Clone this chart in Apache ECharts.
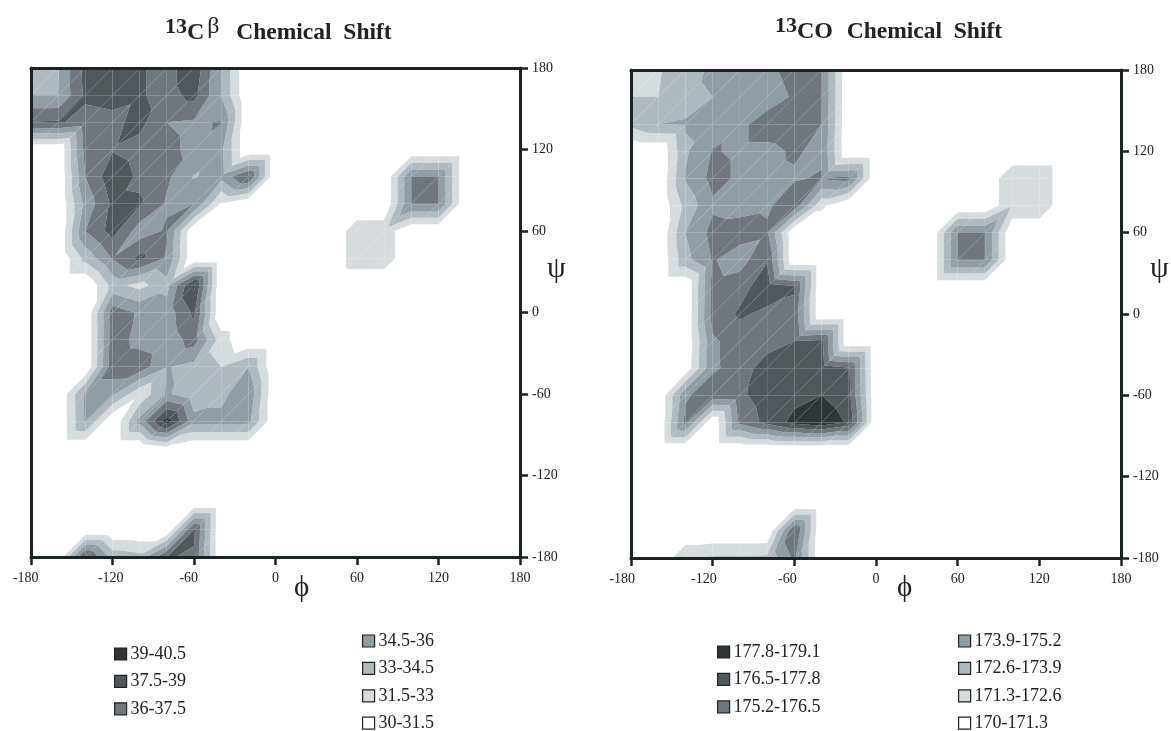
<!DOCTYPE html>
<html><head><meta charset="utf-8">
<style>html,body{margin:0;padding:0;background:#fff}#c{width:1171px;height:731px}</style>
<script src="https://cdn.jsdelivr.net/npm/echarts@6/dist/echarts.min.js"></script>
</head><body><div id="c"></div>
<script>
var phiValues=[-180,-160,-140,-120,-100,-80,-60,-40,-20,0,20,40,60,80,100,120,140,160,180];
var psiValues=[180,160,140,120,100,80,60,40,20,0,-20,-40,-60,-80,-100,-120,-140,-160,-180];
var bandColors=['#ffffff','#d6dbde','#aebabf','#8f9ea5','#6f777d','#50585c','#303638'];
var cbLevels=[30,31.5,33,34.5,36,37.5,39,40.5];
var coLevels=[170,171.3,172.6,173.9,175.2,176.5,177.8,179.1];
var cbNames=['30-31.5','31.5-33','33-34.5','34.5-36','36-37.5','37.5-39','39-40.5'];
var coNames=['170-171.3','171.3-172.6','172.6-173.9','173.9-175.2','175.2-176.5','176.5-177.8','177.8-179.1'];
var cbGrid=[
[34,34.4,38,38.3,37.7,36.9,38.6,34.5,30,30,30,30,30,30,30,30,30,30,30],
[34.5,34.5,37.8,38,37.7,36.9,38,34.5,30,30,30,30,30,30,30,30,30,30,30],
[37.6,37.7,36.9,37.1,38,36,35.8,36.1,30,30,30,30,30,30,30,30,30,30,30],
[30,30,36.5,37.4,36.8,36.2,35.8,34.9,30,30,30,30,30,30,30,30,30,30,30],
[30,30,36,38.5,37.2,36.3,34.4,35,37.7,30,30,30,30,30,36.1,36.1,30,30,30],
[30,30,35,37.8,37.7,35.8,36,31.3,30,30,30,30,30,30,36.1,36.1,30,30,30],
[30,30,36,38.1,35.2,36.2,30,30,30,30,30,30,32.5,32.5,30,30,30,30,30],
[30,30,33.5,36.1,37.9,35.8,30,30,30,30,30,30,32.5,32.5,30,30,30,30,30],
[30,30,30,33.5,32.5,34,39.3,30,30,30,30,30,30,30,30,30,30,30,30],
[30,30,30,36.8,35.8,35.2,37.8,30,30,30,30,30,30,30,30,30,30,30,30],
[30,30,30,36.8,35.5,35,36.7,32.2,30,30,30,30,30,30,30,30,30,30,30],
[30,30,30,37,36.9,34.6,34,33,34.5,30,30,30,30,30,30,30,30,30,30],
[30,30,34.8,34.8,31.8,34.7,33.5,34,35.8,30,30,30,30,30,30,30,30,30,30],
[30,30,34.7,30,35,39.8,35,35,35,30,30,30,30,30,30,30,30,30,30],
[30,30,30,30,30,31,30,30,30,30,30,30,30,30,30,30,30,30,30],
[30,30,30,30,30,30,30,30,30,30,30,30,30,30,30,30,30,30,30],
[30,30,30,30,30,30,30,30,30,30,30,30,30,30,30,30,30,30,30],
[30,30,30,30,30,30,37.8,30,30,30,30,30,30,30,30,30,30,30,30],
[30,30,38,34,33.5,37.6,37.3,30,30,30,30,30,30,30,30,30,30,30,30]];
var coGrid=[
[172.2,172.5,173.2,174.2,174.7,175,175.5,175.3,170,170,170,170,170,170,170,170,170,170,170],
[172.6,172.6,173.5,173.9,174.5,174.8,175.3,175.3,170,170,170,170,170,170,170,170,170,170,170],
[173,173.9,174,174.3,175,175.6,175.7,175.2,170,170,170,170,170,170,170,170,170,170,170],
[170,170,173.7,175.3,175,175,175.3,175,170,170,170,170,170,170,170,170,170,170,170],
[170,170,174,175.6,175,175,175.1,175.3,175.6,170,170,170,170,170,172.5,172.5,170,170,170],
[170,170,173,175,174.8,175,176,171.6,170,170,170,170,170,170,172.5,172.5,170,170,170],
[170,170,173.9,175.6,175.7,175.4,170,170,170,170,170,170,175.3,175.3,170,170,170,170,170],
[170,170,173.5,175.3,174.6,176.4,170,170,170,170,170,170,175.3,175.3,170,170,170,170,170],
[170,170,170,175.6,176,177.3,176.7,170,170,170,170,170,170,170,170,170,170,170,170],
[170,170,170,175.7,176.7,176.2,176,170,170,170,170,170,170,170,170,170,170,170,170],
[170,170,170,175,175.8,175.8,176.5,176.8,170,170,170,170,170,170,170,170,170,170,170],
[170,170,170.3,175,175.7,177.3,177.2,177.2,176.7,170,170,170,170,170,170,170,170,170,170],
[170,170,175,176,176.2,177.2,177.4,177.8,176.9,170,170,170,170,170,170,170,170,170,170],
[170,170,175.6,170,175.5,176.9,178.2,178.8,177.6,170,170,170,170,170,170,170,170,170,170],
[170,170,170,170,170,170,170,170,170,170,170,170,170,170,170,170,170,170,170],
[170,170,170,170,170,170,170,170,170,170,170,170,170,170,170,170,170,170,170],
[170,170,170,170,170,170,170,170,170,170,170,170,170,170,170,170,170,170,170],
[170,170,170,170,170,170,176.6,170,170,170,170,170,170,170,170,170,170,170,170],
[170,170,172.5,172.8,172.8,172.9,175.5,170,170,170,170,170,170,170,170,170,170,170,170]];

var SERIF='"Liberation Serif","Times New Roman",serif', INK='#1a2222';

function triangles(grid){
  var out=[];
  for(var r=0;r<psiValues.length-1;r++)for(var c=0;c<phiValues.length-1;c++){
    var a=[phiValues[c],psiValues[r+1],grid[r+1][c]],
        b=[phiValues[c+1],psiValues[r+1],grid[r+1][c+1]],
        d=[phiValues[c+1],psiValues[r],grid[r][c+1]],
        e=[phiValues[c],psiValues[r],grid[r][c]];
    out.push(a.concat(b,d));
    out.push(a.concat(d,e));
  }
  return out;
}
function clipPoly(poly,level,keepAbove){
  var res=[];
  for(var i=0;i<poly.length;i++){
    var p=poly[i],q=poly[(i+1)%poly.length];
    var pi=keepAbove?p[2]>=level:p[2]<=level, qi=keepAbove?q[2]>=level:q[2]<=level;
    if(pi)res.push(p);
    if(pi!==qi){
      var t=(level-p[2])/(q[2]-p[2]);
      res.push([p[0]+t*(q[0]-p[0]),p[1]+t*(q[1]-p[1]),level]);
    }
  }
  return res;
}
function bandPoly(v,lo,hi){
  var poly=[[v[0],v[1],v[2]],[v[3],v[4],v[5]],[v[6],v[7],v[8]]];
  return clipPoly(clipPoly(poly,lo,true),hi,false);
}
function bandSeries(grid,levels,names,axisIdx){
  var tris=triangles(grid);
  return names.map(function(name,k){
    var lo=levels[k],hi=levels[k+1];
    var data=tris.filter(function(v){return k>0 && bandPoly(v,lo,hi).length>2;});
    return {
      type:'custom',name:name,xAxisIndex:axisIdx,yAxisIndex:axisIdx,
      coordinateSystem:'cartesian2d',silent:true,animation:false,
      itemStyle:{color:bandColors[k]},
      encode:{x:[0,3,6],y:[1,4,7]},
      data:data,
      renderItem:function(params,api){
        var v=[];for(var i=0;i<9;i++)v.push(api.value(i));
        var poly=bandPoly(v,lo,hi);
        if(poly.length<3)return null;
        return {type:'polygon',shape:{points:poly.map(function(p){return api.coord([p[0],p[1]]);})},
                style:{fill:bandColors[k]}};
      }
    };
  });
}
function xLabel(shift){
  return function(v){
    var n=shift[v]||0,s=String(v);
    while(n-->0)s+=' ';
    return s;
  };
}
function xAxes(gi,shift){
  return [
   {gridIndex:gi,type:'value',min:-180,max:180,interval:60,position:'bottom',z:5,splitLine:{show:false},
    axisLine:{onZero:false,lineStyle:{color:INK,width:3}},axisTick:{length:8,lineStyle:{color:INK,width:2.5}},
    axisLabel:{fontFamily:SERIF,fontSize:14,color:'#222',margin:14,showMinLabel:true,showMaxLabel:true,formatter:xLabel(shift)}},
   {gridIndex:gi,type:'value',min:-180,max:180,position:'top',z:5,splitLine:{show:false},
    axisLine:{onZero:false,lineStyle:{color:INK,width:3}},axisTick:{show:false},axisLabel:{show:false}}
  ];
}
function yAxes(gi){
  return [
   {gridIndex:gi,type:'value',min:-180,max:180,interval:60,position:'right',z:5,splitLine:{show:false},
    axisLine:{onZero:false,lineStyle:{color:INK,width:3}},axisTick:{length:8,lineStyle:{color:INK,width:2.5}},
    axisLabel:{fontFamily:SERIF,fontSize:14,color:'#222',margin:12,showMinLabel:true,showMaxLabel:true}},
   {gridIndex:gi,type:'value',min:-180,max:180,position:'left',z:5,splitLine:{show:false},
    axisLine:{onZero:false,lineStyle:{color:INK,width:3}},axisTick:{show:false},axisLabel:{show:false}}
  ];
}
function legendCol(names,left,top){
  return {show:true,orient:'vertical',left:left,top:top,height:125,data:names,selectedMode:false,icon:'rect',
    itemWidth:12,itemHeight:12,itemGap:9.4,padding:0,
    itemStyle:{borderColor:'#222',borderWidth:1.2},
    textStyle:{fontFamily:SERIF,fontSize:18,color:'#222',padding:[0,0,0,-1],height:18,lineHeight:18}};
}
function titleStyle(){
  return {fontFamily:SERIF,fontWeight:'bold',fontSize:23,color:'#222',rich:{
    n:{fontFamily:SERIF,fontWeight:'bold',fontSize:22,color:'#222',padding:[0,0,12,0]},
    c:{fontFamily:SERIF,fontWeight:'bold',fontSize:24,color:'#222'},
    g:{fontFamily:SERIF,fontWeight:'normal',fontSize:24,color:'#222',padding:[0,5,12,3]},
    t:{fontFamily:SERIF,fontWeight:'bold',fontSize:23.5,color:'#222'},
    s:{fontFamily:SERIF,fontWeight:'bold',fontSize:23.5,color:'#222',padding:[0,0,0,2]}}};
}
var cbL=cbNames.slice().reverse();
var coL=coNames.slice().reverse();
var option={
  animation:false,backgroundColor:'#fff',
  title:[
   {text:'{n|13}{c|C}{g|β}{t|  Chemical  Shift}',left:165,top:15,padding:0,textStyle:titleStyle()},
   {text:'{n|13}{c|CO}{s|  Chemical  Shift}',left:775,top:15,padding:0,textStyle:titleStyle()}
  ],
  grid:[{left:31,top:68,width:489,height:489},{left:631,top:70,width:490,height:488}],
  xAxis:xAxes(0,{'-180':3,'-120':1,'-60':3}).concat(xAxes(1,{'-180':5,'-120':5,'-60':4})),
  yAxis:yAxes(0).concat(yAxes(1)),
  legend:[
   legendCol(cbL.slice(0,3),114,645),legendCol(cbL.slice(3),362,632),
   legendCol(coL.slice(0,3),717,643),legendCol(coL.slice(3),958,632)
  ],
  graphic:[
   {type:'text',left:294,top:574,style:{text:'ϕ',font:'29px '+SERIF,fill:'#222'}},
   {type:'text',left:897,top:574,style:{text:'ϕ',font:'29px '+SERIF,fill:'#222'}},
   {type:'text',left:547,top:254,style:{text:'ψ',font:'30px '+SERIF,fill:'#222'}},
   {type:'text',left:1150,top:254,style:{text:'ψ',font:'30px '+SERIF,fill:'#222'}}
  ],
  series:bandSeries(cbGrid,cbLevels,cbNames,0).concat(
         bandSeries(coGrid,coLevels,coNames,2))
};
var chart=echarts.init(document.getElementById('c'),null,{renderer:'canvas',width:1171,height:731});
chart.setOption(option);
</script></body></html>
